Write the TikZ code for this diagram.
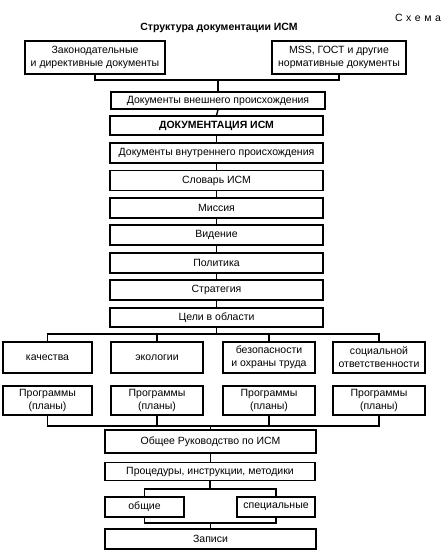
\documentclass[tikz,border=0pt]{standalone}
\usepackage{fontspec}
\setmainfont{Liberation Sans}
\begin{document}
\begin{tikzpicture}[x=1pt,y=-1pt,
  box/.style={draw,line width=1.4pt,inner sep=0pt,align=center,font=\fontsize{10.5}{13}\selectfont},
  ln/.style={line width=1.4pt}]
\useasboundingbox (0,0) rectangle (443,558);
\node (schema) at (418,18) {\fontsize{10.5}{12}\selectfont С\,\,х\,\,е\,\,м\,\,а};
\node (title) at (219,28) {\fontsize{10.5}{12}\selectfont\bfseries Структура документации ИСМ};
% top sources
\node[box,minimum width=140,minimum height=33] (zak) at (95,57.5) {Законодательные\\и директивные документы};
\node[box,minimum width=134,minimum height=33] (mss) at (339,57.5) {MSS, ГОСТ и  другие\\нормативные документы};
% main chain
\node[box,minimum width=214,minimum height=17] (ext) at (218,100.5) {Документы внешнего происхождения};
\node[box,minimum width=213,minimum height=19] (doc) at (216.5,125.5) {\bfseries ДОКУМЕНТАЦИЯ ИСМ};
\node[box,minimum width=213,minimum height=20] (int) at (216.5,153) {Документы внутреннего происхождения};
\node[box,minimum width=213,minimum height=20] (slov) at (216.5,180.5) {Словарь ИСМ};
\node[box,minimum width=213,minimum height=20] (miss) at (216.5,208) {Миссия};
\node[box,minimum width=213,minimum height=20] (vid) at (216.5,235) {Видение};
\node[box,minimum width=213,minimum height=20] (pol) at (216.5,263) {Политика};
\node[box,minimum width=213,minimum height=20] (str) at (216.5,290) {Стратегия};
\node[box,minimum width=213,minimum height=19] (cel) at (216.5,317.5) {Цели в области};
% areas
\node[box,minimum width=89,minimum height=31] (a1) at (47.5,357.5) {качества};
\node[box,minimum width=92,minimum height=31] (a2) at (157,357.5) {экологии};
\node[box,minimum width=92,minimum height=31] (a3) at (269,357.5) {безопасности\\и охраны труда};
\node[box,minimum width=92,minimum height=31] (a4) at (379,357.5) {социальной\\ответственности};
% programs
\node[box,minimum width=89,minimum height=29] (p1) at (47.5,400.5) {Программы\\(планы)};
\node[box,minimum width=92,minimum height=29] (p2) at (157,400.5) {Программы\\(планы)};
\node[box,minimum width=92,minimum height=29] (p3) at (269,400.5) {Программы\\(планы)};
\node[box,minimum width=92,minimum height=29] (p4) at (379,400.5) {Программы\\(планы)};
% lower chain
\node[box,minimum width=211,minimum height=23] (ruk) at (210.5,441.5) {Общее Руководство по ИСМ};
\node[box,minimum width=210,minimum height=18] (proc) at (210,471.5) {Процедуры, инструкции, методики};
\node[box,minimum width=79,minimum height=20] (obs) at (144.5,507) {общие};
\node[box,minimum width=78,minimum height=20] (spec) at (276,507) {специальные};
\node[box,minimum width=211,minimum height=20] (zap) at (210.5,539) {Записи};
% connectors
\coordinate (t1) at (218,80);
\draw[ln] (zak.south) |- (t1) -| (mss.south);
\draw[ln] (t1) -- (ext.north);
\draw[ln] (ext.south) -- (doc.north);
\draw[ln] (doc.south) -- (int.north);
\draw[ln] (int.south) -- (slov.north);
\draw[ln] (slov.south) -- (miss.north);
\draw[ln] (miss.south) -- (vid.north);
\draw[ln] (vid.south) -- (pol.north);
\draw[ln] (pol.south) -- (str.north);
\draw[ln] (str.south) -- (cel.north);
\coordinate (b1) at (216.5,334);
\draw[ln] (cel.south) -- (b1);
\draw[ln] (a1.north) |- (b1) -| (a4.north);
\draw[ln] (a2.north) -- (a2.north |- b1);
\draw[ln] (a3.north) -- (a3.north |- b1);
\coordinate (b2) at (210.5,426);
\draw[ln] (p1.south) |- (b2) -| (p4.south);
\draw[ln] (p2.south) -- (p2.south |- b2);
\draw[ln] (p3.south) -- (p3.south |- b2);
\draw[ln] (b2) -- (ruk.north);
\draw[ln] (ruk.south) -- (ruk.south |- proc.north);
\coordinate (b3) at (210,489);
\draw[ln] (proc.south) -- (b3);
\draw[ln] (obs.north) |- (b3) -| (spec.north);
\coordinate (b4) at (210.5,523);
\draw[ln] (obs.south) |- (b4) -| (spec.south);
\draw[ln] (b4) -- (zap.north);
\end{tikzpicture}
\end{document}
